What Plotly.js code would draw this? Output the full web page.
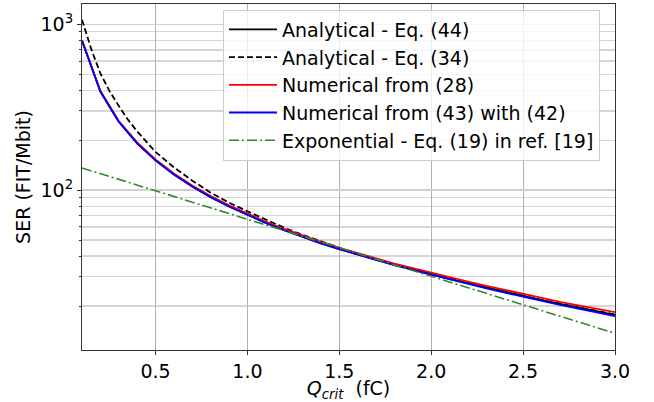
<!DOCTYPE html>
<html>
<head>
<meta charset="utf-8">
<script src="https://cdn.plot.ly/plotly-3.0.1.min.js"></script>
<style>html,body{margin:0;padding:0;background:#fff;}#chart{width:654px;height:402px;}</style>
</head>
<body>
<div id="chart"></div>
<script>
// Q_crit (fC) sample points
const qCoarse = [0.1,0.2,0.3,0.4,0.5,0.6,0.7,0.8,0.9,1.0,1.1,1.2,1.3,1.4,1.5,1.6,1.7,1.8,1.9,2.0,2.1,2.2,2.3,2.4,2.5,2.6,2.7,2.8,2.9,3.0];
const qDashed = [0.1,0.15,0.2,0.25,0.3,0.35,0.4,0.5,0.6,0.7,0.8,0.9,1.0,1.1,1.2,1.3,1.4,1.5,1.6,1.7,1.8,1.9,2.0,2.1,2.2,2.3,2.4,2.5,2.6,2.7,2.8,2.9,3.0];
const qExp = [0.1,0.5,1.0,1.5,2.0,2.5,3.0];

// SER (FIT/Mbit)
const serEq44 = [797,393,258.7,191.5,151.1,124.3,105.1,90.7,79.6,70.7,63.4,57.3,52.2,47.8,44.1,40.8,37.9,35.4,33.1,31.0,29.1,27.4,25.8,24.3,22.9,21.7,20.6,19.6,18.6,17.7];
const serEq34 = [1065,710,505,395,322,266,226,170,137,114,96.5,84,74.5,66.2,59.3,53.7,49.0,44.9,41.3,38.2,35.5,33.2,31.1,29.2,27.5,25.9,24.4,23.0,21.8,20.7,19.7,18.7,17.8];
const serNum28 = [800,396,261,194,153,126,106.5,92,81,72,64.5,58.3,53.1,48.7,44.9,41.6,38.6,36.1,33.8,31.7,29.8,28.1,26.5,25.0,23.6,22.3,21.2,20.2,19.3,18.4];
const serNum43 = [797,393,258.7,191.5,151.1,124.3,105.1,90.7,79.6,70.7,63.4,57.3,52.2,47.8,44.1,40.8,37.8,35.3,33.0,30.9,28.9,27.2,25.6,24.1,22.7,21.4,20.3,19.3,18.3,17.4];
const serExp = [136,99,66.7,44.9,30.2,20.4,13.7];

const names = ["Analytical - Eq. (44)","Analytical - Eq. (34)","Numerical from (28)","Numerical from (43) with (42)","Exponential - Eq. (19) in ref. [19]"];

const traces = [
  {x:qCoarse, y:serEq44, name:names[0], mode:'lines', line:{color:'#000000', width:1.8}, legendgroup:'a'},
  {x:qDashed, y:serEq34, name:names[1], mode:'lines', line:{color:'#000000', width:1.8, dash:'6px,3px'}, legendgroup:'b'},
  {x:qCoarse, y:serNum28, name:names[2], mode:'lines', line:{color:'#ff0000', width:1.8}, legendgroup:'c'},
  {x:qCoarse, y:serNum43, name:names[3], mode:'lines', line:{color:'#0000ff', width:1.8}, legendgroup:'d'},
  {x:qExp, y:serExp, name:names[4], mode:'lines', line:{color:'#2f8a2f', width:1.6, dash:'10px,3px,2px,3px'}, legendgroup:'e'}
];

const font = "DejaVu Sans, sans-serif";
const layout = {
  width:654, height:402,
  margin:{l:82, r:39, t:4, b:52},
  paper_bgcolor:'#ffffff', plot_bgcolor:'#ffffff',
  font:{family:font, size:19, color:'#000000'},
  showlegend:true,
  legend:{x:0.2645, y:0.984, xanchor:'left', yanchor:'top',
    bgcolor:'rgba(255,255,255,0.8)', bordercolor:'#cccccc', borderwidth:1,
    font:{family:font, size:19, color:'#000000'}, traceorder:'normal', tracegroupgap:6, itemwidth:48},
  xaxis:{
    range:[0.1,3.0], tick0:0.5, dtick:0.5, tickformat:'.1f',
    showgrid:true, gridcolor:'#b0b0b0', gridwidth:1, zeroline:false,
    showline:true, mirror:true, linecolor:'#333333', linewidth:1,
    ticks:'outside', ticklen:4, tickcolor:'#333333',
    tickfont:{family:font, size:19},
    title:{text:'<i>Q</i><sub><i>crit</i></sub>  (fC)', font:{family:font, size:19}, standoff:4}
  },
  yaxis:{
    type:'log', range:[1.036,3.122],
    tickmode:'array', tickvals:[100,1000], ticktext:['10<sup>2</sup>','10<sup>3</sup>'],
    showgrid:true, gridcolor:'#d0d0d0', gridwidth:1.3, zeroline:false,
    showline:true, mirror:true, linecolor:'#333333', linewidth:1,
    ticks:'outside', ticklen:4, tickcolor:'#333333',
    tickfont:{family:font, size:19},
    minor:{dtick:'D1', ticks:'outside', ticklen:2, tickcolor:'#333333', showgrid:true, gridcolor:'#d6d6d6', gridwidth:1.3},
    title:{text:'SER (FIT/Mbit)', font:{family:font, size:19}, standoff:4}
  }
};

Plotly.newPlot('chart', traces, layout, {staticPlot:true, displayModeBar:false});
</script>
</body>
</html>
